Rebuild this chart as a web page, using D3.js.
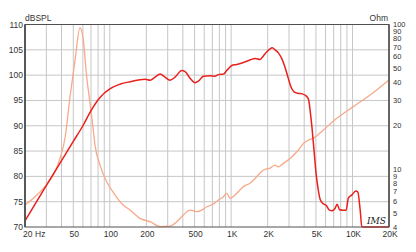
<!DOCTYPE html>
<html>
<head>
<meta charset="utf-8">
<script src="https://cdn.jsdelivr.net/npm/d3@7"></script>
<style>
  body { margin: 0; background: #fff; }
  text { font-family: "Liberation Sans", Arial, sans-serif; fill: #333; }
</style>
</head>
<body>
<script>
'use strict';

// SPL response (dB)
var splFreq = [20, 30, 40, 50, 60, 70, 83, 100, 121, 147, 195, 215, 236, 260, 285, 313, 345, 392, 417, 458,
    504, 537, 590, 670, 736, 785, 863, 920, 1012, 1112, 1262, 1432, 1575, 1732, 1845, 1968, 2094, 2180, 2300,
    2450, 2620, 2783, 2947, 3120, 3303, 3563, 3843, 4147, 4346, 4477, 4644, 4826, 5015, 5212, 5410, 5729,
    6063, 6418, 6790, 7188, 7465, 7840, 8380, 8860, 9250, 9865, 10640, 11060, 11560, 11940, 12240, 20000];
var splDb = [71.2, 78.2, 83.1, 86.9, 90.0, 93.0, 95.6, 97.3, 98.2, 98.7, 99.2, 99.0, 99.6, 100.2, 99.6, 99.0, 99.6, 100.9, 100.7, 99.4,
    98.5, 98.8, 99.8, 99.9, 99.8, 100.1, 100.2, 100.9, 101.9, 102.1, 102.5, 103.0, 103.3, 103.1, 103.8, 104.6, 105.2, 105.4, 105.0,
    104.4, 103.2, 101.5, 99.5, 97.6, 96.7, 96.4, 96.3, 95.9, 95.2, 93.0, 89.5, 85.0, 80.5, 77.5, 75.5, 74.6,
    74.3, 73.4, 73.2, 73.7, 74.5, 73.4, 73.3, 73.3, 75.7, 76.3, 77.1, 76.9, 73.5, 70.1, 70, 70];

// impedance (Ohm)
var impFreq = [20, 24.2, 29.2, 34.2, 38.9, 42.7, 47, 51.7, 56.8, 60.5, 64.5, 68.7, 73.1, 75.5, 83, 94.3, 110.5, 129, 147, 177,
    215, 260, 313, 356, 404, 458, 521, 573, 630, 713, 785, 863, 920, 980, 1112, 1262, 1432, 1626, 1845, 2094,
    2302, 2450, 2695, 3059, 3583, 3940, 4332, 4764, 5756, 7425, 10180, 13970, 20000];
var impOhm = [5.67, 6.47, 7.6, 9.14, 11.9, 16.4, 31.7, 56.8, 95, 78, 43.6, 28.6, 18.7, 14.7, 10.7, 8.2, 6.65, 5.67, 5.23, 4.59,
    4.35, 4.03, 4.06, 4.35, 4.84, 5.23, 5.11, 5.23, 5.52, 5.76, 6.14, 6.47, 6.83, 6.31, 6.83, 7.6, 8.01, 8.9, 9.89, 10.2,
    10.7, 10.4, 11.0, 11.9, 13.6, 15.1, 15.9, 16.4, 18.7, 22.5, 27.1, 32.6, 41.5];

var gridFreqs = [30, 40, 50, 60, 70, 80, 90, 100, 200, 300, 400, 500, 600, 700, 800, 900, 1000,
    2000, 3000, 4000, 5000, 6000, 7000, 8000, 9000, 10000];
var freqTicks = [50, 100, 200, 500, 1000, 2000, 5000, 10000, 20000];
var freqLabels = ['50', '100', '200', '500', '1K', '2K', '5K', '10K', '20K'];
var dbTicks = [70, 75, 80, 85, 90, 95, 100, 105, 110];
var ohmTicks = [4, 5, 6, 7, 8, 9, 10, 20, 30, 40, 50, 60, 70, 80, 90, 100];

(function() {
    var width = 416, height = 252;
    var pLeft = 25, pRight = 389, pTop = 24.5, pBottom = 227;

    var svg = d3.select('body').append('svg')
        .attr('width', width)
        .attr('height', height);

    var x = d3.scaleLog().domain([20, 20000]).range([pLeft, pRight]);
    var yDb = d3.scaleLinear().domain([70, 110]).range([pBottom, pTop]);
    var yOhm = d3.scaleLog().domain([4, 100]).range([pBottom, pTop]);

    var grid = svg.append('g').attr('stroke', '#c6c6c6').attr('stroke-width', 1);
    grid.selectAll('line.v')
        .data(gridFreqs)
        .enter().append('line')
        .attr('class', 'v')
        .attr('x1', d => x(d)).attr('x2', d => x(d))
        .attr('y1', pTop).attr('y2', pBottom);
    grid.selectAll('line.h')
        .data(dbTicks.slice(1, -1))
        .enter().append('line')
        .attr('class', 'h')
        .attr('x1', pLeft).attr('x2', pRight)
        .attr('y1', d => yDb(d)).attr('y2', d => yDb(d));

    // impedance curve
    var impLine = d3.line()
        .x(d => x(d[0]))
        .y(d => yOhm(d[1]))
        .curve(d3.curveMonotoneX);
    svg.append('path')
        .datum(d3.zip(impFreq, impOhm))
        .attr('fill', 'none')
        .attr('stroke', '#f7a98a')
        .attr('stroke-width', 1.3)
        .attr('d', impLine);

    // SPL curve
    var splLine = d3.line()
        .x(d => x(d[0]))
        .y(d => yDb(Math.max(70, d[1])))
        .curve(d3.curveMonotoneX);
    svg.append('path')
        .datum(d3.zip(splFreq, splDb))
        .attr('fill', 'none')
        .attr('stroke', '#e8211d')
        .attr('stroke-width', 1.5)
        .attr('d', splLine);

    // frame
    svg.append('rect')
        .attr('x', pLeft).attr('y', pTop)
        .attr('width', pRight - pLeft).attr('height', pBottom - pTop)
        .attr('fill', 'none')
        .attr('stroke', '#505050')
        .attr('stroke-width', 1);
    svg.append('line')
        .attr('x1', pLeft).attr('x2', pLeft)
        .attr('y1', pTop).attr('y2', pBottom)
        .attr('stroke', '#505050').attr('stroke-width', 1.8);
    svg.append('line')
        .attr('x1', pRight).attr('x2', pRight)
        .attr('y1', pTop).attr('y2', pBottom)
        .attr('stroke', '#505050').attr('stroke-width', 1.5);

    // left axis labels
    svg.selectAll('text.db')
        .data(dbTicks)
        .enter().append('text')
        .attr('class', 'db')
        .attr('x', pLeft - 2)
        .attr('y', d => yDb(d) + 3)
        .attr('text-anchor', 'end')
        .style('font-size', '8.5px')
        .text(d => d);

    // right axis labels
    svg.selectAll('text.ohm')
        .data(ohmTicks)
        .enter().append('text')
        .attr('class', 'ohm')
        .attr('x', pRight + 4)
        .attr('y', d => yOhm(d) + 2.7)
        .style('font-size', '7.5px')
        .text(d => d);

    // bottom labels
    svg.selectAll('text.f')
        .data(freqTicks)
        .enter().append('text')
        .attr('class', 'f')
        .attr('x', d => x(d) + 1)
        .attr('y', 237)
        .attr('text-anchor', 'middle')
        .style('font-size', '8.5px')
        .text((d, i) => freqLabels[i]);
    svg.append('text')
        .attr('x', pLeft - 2)
        .attr('y', 237)
        .style('font-size', '8.5px')
        .text('20');
    svg.append('text')
        .attr('x', 35)
        .attr('y', 237)
        .style('font-size', '8.5px')
        .text('Hz');

    svg.append('text')
        .attr('x', pLeft)
        .attr('y', 21)
        .style('font-size', '8.5px')
        .text('dBSPL');
    svg.append('text')
        .attr('x', pRight - 1)
        .attr('y', 21)
        .attr('text-anchor', 'end')
        .style('font-size', '8.5px')
        .text('Ohm');

    svg.append('text')
        .attr('x', 367)
        .attr('y', 224)
        .style('font-family', '"DejaVu Serif", serif')
        .style('font-style', 'italic')
        .style('font-size', '9px')
        .style('fill', '#222')
        .text('IMS');
})();
</script>
</body>
</html>
